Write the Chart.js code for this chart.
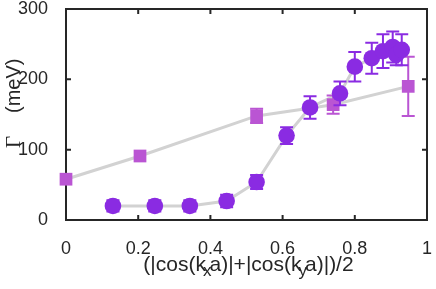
<!DOCTYPE html>
<html><head><meta charset="utf-8">
<script src="https://cdn.jsdelivr.net/npm/chart.js@4.4.1/dist/chart.umd.min.js"></script>
<style>html,body{margin:0;padding:0;background:#fff}#wrap{width:436px;height:289px;position:relative}</style>
</head><body><div id="wrap"><canvas id="c" width="436" height="289"></canvas></div>
<script>
// ---- data ----
const xTickValues = [0, 0.2, 0.4, 0.6, 0.8, 1];
const yTickValues = [0, 100, 200, 300];

const squareX   = [0, 0.205, 0.528, 0.740, 0.948];
const squareY   = [58, 91, 148, 164, 190];
const squareErr = [0, 0, 10, 13, 42];

const circleX   = [0.130, 0.246, 0.343, 0.445, 0.528, 0.611, 0.676, 0.759, 0.800, 0.847, 0.878, 0.905, 0.915, 0.930];
const circleY   = [20, 20, 20, 27, 54, 120, 160, 180, 218, 230, 240, 246, 235, 242];
const circleErr = [8, 8, 8, 9, 10, 12, 16, 17, 21, 22, 24, 22, 15, 22];

const xTitleParts = [
  {t: "(|cos(k", sub: false},
  {t: "x", sub: true},
  {t: "a)|+|cos(k", sub: false},
  {t: "y", sub: true},
  {t: "a)|)/2", sub: false}
];
const yTitleSymbol = "\u0393";
const yTitleUnit = "(meV)";

// ---- styles ----
const circleColor = "#8a2be2";
const squareColor = "#ba55d3";
const lineGray = "#d2d2d2";
const axisColor = "#262626";
const SANS = "'Liberation Sans', Arial, Helvetica, sans-serif";
const SERIF = "'Liberation Serif', 'Times New Roman', serif";

const pts = (xs, ys) => xs.map((x, i) => ({x: x, y: ys[i]}));

const errorBarPlugin = {
  id: 'errbars',
  beforeDatasetDraw(chart, args) {
    const ds = chart.data.datasets[args.index];
    if (!ds.errorBars) return;
    const xs = chart.scales.x, ys = chart.scales.y, ctx = chart.ctx;
    ctx.save();
    ctx.strokeStyle = ds.backgroundColor;
    ctx.lineWidth = 2;
    ds.data.forEach((p, i) => {
      const e = ds.errorBars[i];
      if (!e) return;
      const px = xs.getPixelForValue(p.x);
      const t = ys.getPixelForValue(p.y + e);
      const b = ys.getPixelForValue(p.y - e);
      const hw = 6.5;
      ctx.beginPath();
      ctx.moveTo(px, t); ctx.lineTo(px, b);
      ctx.moveTo(px - hw, t); ctx.lineTo(px + hw, t);
      ctx.moveTo(px - hw, b); ctx.lineTo(px + hw, b);
      ctx.stroke();
    });
    ctx.restore();
  }
};

const framePlugin = {
  id: 'frame',
  beforeDatasetsDraw(chart) {
    const {ctx, chartArea: a} = chart;
    const xs = chart.scales.x, ys = chart.scales.y;
    ctx.save();
    ctx.strokeStyle = axisColor;
    ctx.lineWidth = 2;
    ctx.strokeRect(a.left, a.top, a.right - a.left, a.bottom - a.top);
    const tl = 5;
    ctx.beginPath();
    xTickValues.forEach(v => {
      const px = xs.getPixelForValue(v);
      ctx.moveTo(px, a.bottom); ctx.lineTo(px, a.bottom - tl);
      ctx.moveTo(px, a.top); ctx.lineTo(px, a.top + tl);
    });
    yTickValues.forEach(v => {
      const py = ys.getPixelForValue(v);
      ctx.moveTo(a.left, py); ctx.lineTo(a.left + tl, py);
      ctx.moveTo(a.right, py); ctx.lineTo(a.right - tl, py);
    });
    ctx.stroke();
    ctx.restore();
  },
  afterDraw(chart) {
    const {ctx, chartArea: a} = chart;
    ctx.save();
    ctx.fillStyle = axisColor;
    ctx.textBaseline = 'alphabetic';
    // x title with subscripts
    const mainFont = "21px " + SANS, subFont = "17px " + SANS;
    let total = 0;
    xTitleParts.forEach(p => {
      ctx.font = p.sub ? subFont : mainFont;
      total += ctx.measureText(p.t).width + (p.sub ? -5 : 0);
    });
    let x = (a.left + a.right) / 2 - total / 2 + 2;
    const base = 271;
    xTitleParts.forEach(p => {
      ctx.font = p.sub ? subFont : mainFont;
      ctx.textAlign = 'left';
      if (p.sub) {
        x -= 3;
        ctx.fillText(p.t, x, base + 5);
        x += ctx.measureText(p.t).width - 2;
      } else {
        ctx.fillText(p.t, x, base);
        x += ctx.measureText(p.t).width;
      }
    });
    // y title
    ctx.translate(20, 148);
    ctx.rotate(-Math.PI / 2);
    ctx.textAlign = 'left';
    ctx.font = "21px " + SERIF;
    ctx.fillText(yTitleSymbol, 0, 0);
    ctx.font = "20px " + SANS;
    ctx.fillText(yTitleUnit, 35, 0);
    ctx.restore();
  }
};

const noPad = s => { s.paddingTop = 0; s.paddingBottom = 0; s.paddingLeft = 0; s.paddingRight = 0; };

new Chart(document.getElementById('c'), {
  type: 'scatter',
  data: {
    datasets: [
      { type: 'line', data: pts(squareX, squareY), borderColor: lineGray, borderWidth: 3,
        pointRadius: 0, fill: false, order: 4, clip: false },
      { type: 'line', data: pts(circleX, circleY), borderColor: lineGray, borderWidth: 3,
        pointRadius: 0, fill: false, order: 3, clip: false },
      { data: pts(squareX, squareY), errorBars: squareErr, backgroundColor: squareColor,
        borderColor: squareColor, borderWidth: 0, pointStyle: 'rect', pointRadius: 9,
        showLine: false, order: 2, clip: false },
      { data: pts(circleX, circleY), errorBars: circleErr, backgroundColor: circleColor,
        borderColor: circleColor, borderWidth: 0, pointStyle: 'circle', pointRadius: 8.3,
        showLine: false, order: 1, clip: false }
    ]
  },
  options: {
    responsive: false,
    animation: false,
    devicePixelRatio: 1,
    layout: { padding: { top: 8, right: 9, left: 0, bottom: 0 } },
    plugins: { legend: { display: false }, tooltip: { enabled: false } },
    scales: {
      x: {
        type: 'linear', min: 0, max: 1,
        afterBuildTicks: s => { s.ticks = xTickValues.map(v => ({value: v})); },
        afterFit: s => { s.height = 69; noPad(s); },
        grid: { display: false }, border: { display: false },
        ticks: { color: axisColor, padding: 10, font: { size: 18, family: SANS },
                 callback: v => String(v), maxRotation: 0 }
      },
      y: {
        min: 0, max: 300,
        afterBuildTicks: s => { s.ticks = yTickValues.map(v => ({value: v})); },
        afterFit: s => { s.width = 66; noPad(s); },
        grid: { display: false }, border: { display: false },
        ticks: { color: axisColor, padding: 10, font: { size: 18, family: SANS } }
      }
    }
  },
  plugins: [errorBarPlugin, framePlugin]
});
</script>
</body></html>
